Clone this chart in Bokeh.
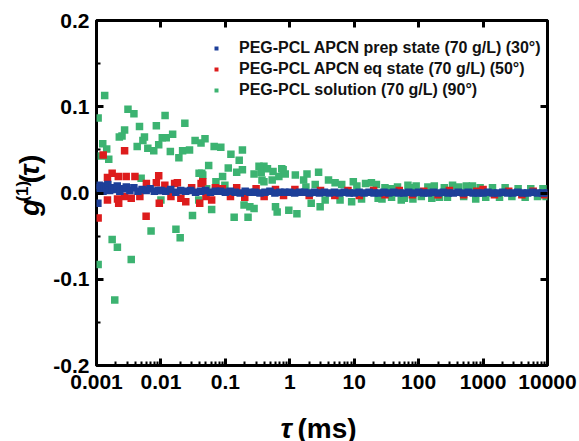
import math
from bokeh.plotting import figure
from bokeh.layouts import row, column
from bokeh.models import (Range1d, LogAxis, LinearAxis, FixedTicker, CustomJSTickFormatter,
                          PrintfTickFormatter, Legend, LegendItem, Label)
from bokeh.embed import file_html
from bokeh.resources import INLINE

# ---------------- data ----------------
series_names = ["PEG-PCL APCN prep state (70 g/L) (30\u00b0)",
                "PEG-PCL APCN eq state (70 g/L) (50\u00b0)",
                "PEG-PCL solution (70 g/L) (90\u00b0)"]

blue_tau = [0.00100, 0.00105, 0.00110, 0.00115, 0.00120, 0.00126, 0.00132, 0.00140, 0.00150, 0.00160,
            0.00175, 0.00190, 0.00210, 0.00230, 0.00260, 0.00290, 0.00330, 0.00380, 0.00440, 0.00510,
            0.00590, 0.00680, 0.00790, 0.00910,
            0.0100, 0.0119, 0.0142, 0.0170, 0.0203, 0.0242, 0.0289, 0.0345, 0.0412, 0.0492, 0.0587, 0.0701, 0.0837,
            0.100, 0.119, 0.142, 0.170, 0.203, 0.242, 0.289, 0.345, 0.412, 0.492, 0.587, 0.701, 0.837,
            1.00, 1.19, 1.42, 1.70, 2.03, 2.42, 2.89, 3.45, 4.12, 4.92, 5.87, 7.01, 8.37,
            10.0, 11.9, 14.2, 17.0, 20.3, 24.2, 28.9, 34.5, 41.2, 49.2, 58.7, 70.1, 83.7,
            100, 119, 142, 170, 203, 242, 289, 345, 412, 492, 587, 701, 837,
            1000, 1190, 1420, 1700, 2030, 2420, 2890, 3450, 4120, 4920, 5870, 7010, 8370, 10000]
blue_g = [0.006, -0.012, 0.009, 0.004, 0.008, 0.002, 0.007, 0.005, 0.010, 0.003,
          0.006, 0.004, 0.008, 0.002, 0.005, 0.007, 0.003, 0.006, 0.002, 0.004,
          0.003, 0.005, 0.002, 0.003,
          0.003, 0.002, 0.004, 0.001, 0.003, 0.002, 0.003, 0.001, 0.002, 0.003, 0.001, 0.002, 0.002,
          0.001, 0.002, 0.001, 0.000, 0.002, 0.001, 0.001, 0.000, 0.001, 0.002, 0.000, 0.001, 0.001,
          0.001, 0.000, 0.001, 0.001, 0.000, 0.001, 0.000, 0.001, 0.000, 0.001, 0.000, 0.001, 0.000,
          0.000, 0.001, 0.000, 0.001, 0.000, 0.000, 0.001, 0.000, 0.001, 0.000, 0.000, 0.001, 0.000,
          0.001, 0.000, 0.000, 0.001, 0.000, 0.001, 0.000, 0.000, 0.001, 0.000, 0.001, 0.000, 0.000,
          0.000, 0.001, 0.000, 0.000, 0.001, 0.000, 0.000, 0.001, 0.000, 0.000, 0.001, 0.000, 0.000, 0.000]

red_tau = [0.00106, 0.00127, 0.00148, 0.00148, 0.00175, 0.00212, 0.00218, 0.00221, 0.00273, 0.00273,
           0.00289, 0.00346, 0.00395, 0.00471, 0.00589, 0.00595, 0.00849, 0.00924, 0.00943, 0.0115,
           0.0143, 0.0163, 0.0180, 0.0204, 0.0243, 0.0300, 0.0400, 0.0420, 0.0446, 0.0500,
           0.0613, 0.0700, 0.090, 0.12, 0.15, 0.2, 0.3, 0.4, 0.6, 0.8,
           1.2, 2, 3, 5, 8, 12, 20, 30, 50, 80,
           120, 200, 300, 500, 800, 1000, 1500, 2500, 4000, 6000, 9000]
red_g = [-0.029, 0.044, 0.018, -0.008, 0.023, -0.007, 0.019, -0.012, 0.049, -0.004,
         0.019, -0.006, 0.019, -0.004, -0.027, 0.011, 0.012, 0.020, -0.012, 0.009,
         -0.004, 0.011, 0.012, -0.006, -0.010, 0.006, -0.012, 0.011, 0.013, -0.004,
         -0.008, 0.006, 0.005, -0.004, 0.006, -0.005, 0.005, -0.004, 0.004, -0.003,
         0.004, -0.003, 0.003, -0.003, 0.003, -0.003, 0.003, -0.002, 0.003, -0.002,
         0.002, -0.002, 0.003, -0.002, 0.002, 0.004, -0.002, 0.002, -0.002, 0.002, -0.002]

green_tau = [0.00106, 0.00106, 0.00119, 0.00125, 0.00134, 0.00144, 0.00155, 0.00175, 0.00192, 0.00211,
             0.00226, 0.00249, 0.00273, 0.00308, 0.00346, 0.00381, 0.00428, 0.00465, 0.00493, 0.00525,
             0.00555, 0.00626, 0.00703, 0.00774, 0.00849, 0.00924, 0.0100, 0.0105, 0.0116, 0.0121,
             0.0140, 0.0152, 0.0171, 0.0190, 0.0199, 0.0217, 0.0235, 0.0278, 0.0309, 0.0339,
             0.0386, 0.0391, 0.0419, 0.0430, 0.0446, 0.0483, 0.0513, 0.0551, 0.0613, 0.0670,
             0.0714, 0.0850, 0.0906, 0.0983, 0.111, 0.122, 0.137, 0.150, 0.164, 0.184,
             0.184, 0.195, 0.225, 0.240, 0.279, 0.279, 0.333, 0.360, 0.370, 0.397,
             0.397, 0.450, 0.533, 0.550, 0.600, 0.637, 0.677, 0.750, 0.789, 0.850,
             0.966, 1.22, 1.29, 1.64, 1.78, 1.85, 2.15, 2.48, 2.80, 2.96,
             3.54, 3.99, 5.05, 6.03, 6.40, 9.12, 9.68, 11.0, 13.0, 15.0,
             18.5, 22.1, 23.5, 27.0, 30.0, 33.5, 38.0, 42.4, 47.0, 53.7,
             60.0, 68.2, 75.0, 81.5, 91.5, 110, 139, 160, 175, 209,
             250, 280, 336, 420, 500, 550, 684, 769, 900, 1100,
             1400, 1800, 2200, 2800, 3500, 4500, 5500, 7000, 8500, 9500]
green_g = [0.087, -0.083, 0.043, 0.057, 0.113, 0.051, 0.039, -0.054, -0.124, -0.063,
           0.065, 0.066, 0.073, 0.097, -0.077, 0.092, 0.054, 0.077, 0.017, 0.061,
           0.065, 0.052, -0.044, 0.049, 0.078, 0.056, -0.008, 0.064, 0.090, 0.064,
           0.048, 0.068, -0.042, 0.041, -0.052, 0.049, 0.081, 0.050, -0.026, 0.061,
           -0.008, 0.023, 0.058, 0.023, 0.021, 0.063, 0.005, 0.032, -0.019, 0.054,
           0.013, 0.053, 0.019, 0.009, 0.029, 0.045, -0.028, 0.024, 0.038, 0.050,
           0.027, -0.014, -0.028, -0.016, -0.018, 0.022, 0.031, 0.024, 0.015, 0.031,
           0.013, 0.028, 0.015, 0.025, -0.016, -0.022, 0.019, 0.028, 0.027, 0.022,
           -0.020, 0.021, -0.024, 0.015, 0.007, 0.022, -0.012, 0.010, 0.024, -0.016,
           -0.008, 0.015, 0.012, -0.008, 0.010, -0.010, 0.013, 0.008, -0.007, 0.011,
           0.012, 0.010, -0.006, -0.007, 0.006, 0.005, -0.005, 0.005, 0.007, -0.008,
           -0.006, 0.009, 0.006, -0.007, 0.008, -0.004, 0.007, -0.006, 0.008, -0.005,
           0.006, -0.005, 0.009, 0.007, -0.004, 0.008, 0.008, -0.007, 0.006, -0.005,
           0.006, -0.005, 0.006, -0.004, 0.005, -0.005, 0.005, -0.004, 0.005, -0.004]

x_major = [0.001, 0.01, 0.1, 1, 10, 100, 1000, 10000]
y_major = [-0.2, -0.1, 0.0, 0.1, 0.2]
y_minor = [-0.15, -0.05, 0.05, 0.15]

BLUE = "#1d3f99"
RED = "#dd1c1c"
GREEN = "#3cb371"
FONT = "Liberation Sans"

# ---------------- layout geometry (page pixels) ----------------
PAGE_W, PAGE_H = 579, 441
YT_W = 50            # width of y-title strip
MAIN_H = 404         # height of main plot row
FRAME_L, FRAME_R, FRAME_T, FRAME_B = 93, 547, 20, 365

# ---------------- main figure ----------------
p = figure(width=PAGE_W - YT_W, height=MAIN_H, x_axis_type="log", title=None,
           x_range=Range1d(0.001, 10000), y_range=Range1d(-0.2, 0.2),
           output_backend="svg", toolbar_location=None, margin=0,
           min_border_left=FRAME_L - YT_W, min_border_right=PAGE_W - FRAME_R,
           min_border_top=FRAME_T, min_border_bottom=MAIN_H - FRAME_B)
p.grid.visible = False
p.outline_line_color = "black"
p.outline_line_width = 3
p.background_fill_color = "white"

MS = 7.5
rg = p.scatter(green_tau, green_g, marker="square", size=MS, fill_color=GREEN, line_color=None)
rr = p.scatter(red_tau, red_g, marker="square", size=MS, fill_color=RED, line_color=None)
rb = p.scatter(blue_tau, blue_g, marker="square", size=MS, fill_color=BLUE, line_color=None)

x_minor = [m * d for d in [0.001, 0.01, 0.1, 1, 10, 100, 1000] for m in range(2, 10)]

bottom = p.below[0]
left = p.left[0]
top = LogAxis()
right = LinearAxis()
p.add_layout(top, "above")
p.add_layout(right, "right")

for ax in (bottom, top):
    ax.ticker = FixedTicker(ticks=x_major, minor_ticks=x_minor)
for ax in (left, right):
    ax.ticker = FixedTicker(ticks=y_major, minor_ticks=y_minor)

bottom.formatter = CustomJSTickFormatter(code="""
const e = Math.round(Math.log10(tick));
return e < 0 ? tick.toFixed(-e) : tick.toFixed(0);
""")
left.formatter = PrintfTickFormatter(format="%.1f")
top.formatter = CustomJSTickFormatter(code="return ''")
right.formatter = CustomJSTickFormatter(code="return ''")

for ax in (bottom, left, top, right):
    ax.axis_line_color = None
    ax.major_tick_in = 7
    ax.major_tick_out = 0
    ax.major_tick_line_width = 3
    ax.major_tick_line_color = "black"
    ax.minor_tick_in = 4
    ax.minor_tick_out = 0
    ax.minor_tick_line_width = 2
    ax.minor_tick_line_color = "black"
    ax.major_label_text_font = FONT
    ax.major_label_text_font_style = "bold"
    ax.major_label_text_font_size = "21px"
    ax.major_label_text_color = "black"
top.minor_tick_line_color = None
right.minor_tick_line_color = None
top.major_label_text_font_size = "0px"
right.major_label_text_font_size = "0px"
bottom.major_label_standoff = 9
left.major_label_standoff = 7

legend = Legend(items=[LegendItem(label=series_names[0], renderers=[rb]),
                       LegendItem(label=series_names[1], renderers=[rr]),
                       LegendItem(label=series_names[2], renderers=[rg])],
                location=(115, 265), glyph_width=10, glyph_height=20, label_height=20,
                spacing=1, padding=0, margin=0, label_standoff=18,
                background_fill_alpha=0, border_line_color=None,
                label_text_font=FONT, label_text_font_style="bold",
                label_text_font_size="16px", label_text_color="#111111")
p.add_layout(legend)

# ---------------- title strips (frames fill the canvas: 1 data unit = 1 px) ----------------
def strip(w, h):
    f = figure(width=w, height=h, x_range=Range1d(0, w), y_range=Range1d(0, h), title=None,
               x_axis_type=None, y_axis_type=None, output_backend="svg", toolbar_location=None,
               min_border=0, margin=0)
    f.grid.visible = False
    f.outline_line_color = None
    return f

yfig = strip(YT_W, MAIN_H)
xfig = strip(PAGE_W, PAGE_H - MAIN_H)

def lab(f, y0, h, px, py, text, size, style, angle=0.0):
    # (px, py): page position of the text's start, vertically centred on the line
    f.add_layout(Label(x=px, y=(y0 + h) - py, text=text, angle=angle,
                       text_font=FONT, text_font_size=size, text_font_style=style,
                       text_color="black", text_align="left", text_baseline="middle"))

# y title: g(1)(tau), rotated, reading upward
A = math.pi / 2
lab(yfig, 0, MAIN_H, 29, 229, "g", "28px", "bold italic", A)
lab(yfig, 0, MAIN_H, 22, 212, "(1)", "17px", "bold", A)
lab(yfig, 0, MAIN_H, 29, 191, "(", "28px", "bold", A)
lab(yfig, 0, MAIN_H, 29, 182, "\u03c4", "28px", "bold italic", A)
lab(yfig, 0, MAIN_H, 29, 168, ")", "28px", "bold", A)

# x title: tau (ms)
lab(xfig, MAIN_H, PAGE_H - MAIN_H, 280, 428, "\u03c4", "28px", "bold italic")
lab(xfig, MAIN_H, PAGE_H - MAIN_H, 297, 428, "(ms)", "28px", "bold")

layout = column(row(yfig, p, spacing=0, margin=0), xfig, spacing=0, margin=0)
open("out.html", "w").write(file_html(layout, INLINE))
